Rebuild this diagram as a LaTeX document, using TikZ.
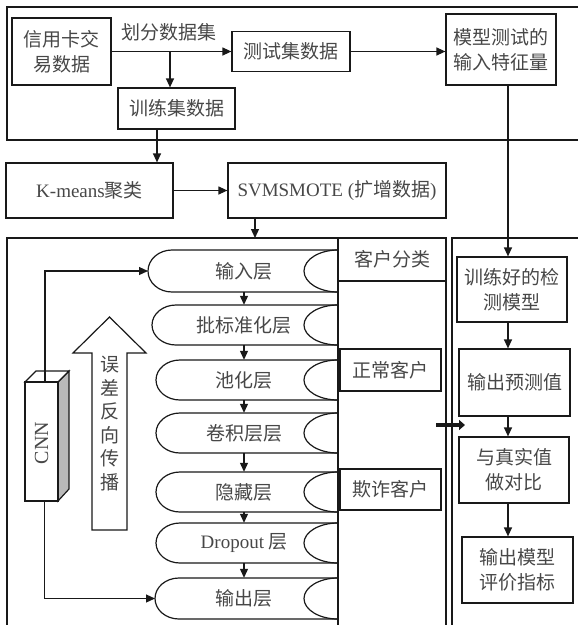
\documentclass[tikz,border=0pt]{standalone}
\usepackage{fontspec}
\setmainfont{Liberation Serif}
\newfontfamily\zh{Noto Sans CJK SC}
\usetikzlibrary{arrows.meta}
\begin{document}
\begin{tikzpicture}[x=1pt,y=-1pt,
  every node/.style={font=\zh\fontsize{19}{25}\selectfont, text=black!72, inner sep=0pt},
  box/.style={draw=black!90, line width=1.2pt, align=center},
  ln/.style={draw=black!90, line width=1.2pt},
  arr/.style={draw=black!90, line width=1.2pt, -{Triangle[length=9pt,width=8pt]}},
]
\useasboundingbox (0,0) rectangle (578,625);
\clip (0,0) rectangle (578,625);

% frames
\draw[ln] (7,7) rectangle (595,140);
\draw[ln] (7,238) rectangle (446,640);
\draw[ln] (338,238) -- (338,640);
\draw[ln] (452,238) rectangle (595,640);

% top section
\node[box, minimum width=99pt, minimum height=67pt] (src) at (61.5,51.5) {信用卡交\\易数据};
\node (split) at (169,32) {划分数据集};
\node[box, minimum width=118pt, minimum height=40pt] (test) at (291,51.5) {测试集数据};
\node[box, minimum width=117pt, minimum height=41pt] (train) at (176.5,108.5) {训练集数据};
\node[box, minimum width=110pt, minimum height=71pt] (model) at (501,49.5) {模型测试的\\输入特征量};
\node[box, minimum width=167pt, minimum height=55pt] (km) at (89.5,190.5) {{\rmfamily K-means}聚类};
\node[box, minimum width=218pt, minimum height=55pt] (sv) at (337,190.5) {{\rmfamily SVMSMOTE (}扩增数据{\rmfamily )}};

\coordinate (br) at (170,51.5);
\coordinate (c1) at (157,0);
\coordinate (c2) at (255,0);
\coordinate (rx) at (508,0);
\coordinate (cnnin) at (255,238);

\draw[arr] (src.east) -- (src.east -| test.west);
\draw[arr] (br) -- (br |- train.north);
\draw[arr] (test.east) -- (test.east -| model.west);
\draw[arr] (c1 |- train.south) -- (c1 |- km.north);
\draw[arr] (km.east) -- (km.east -| sv.west);
\draw[arr] (c2 |- sv.south) -- (cnnin);

% middle column
\node[box, minimum width=108pt, minimum height=43pt] (cls) at (392,259.5) {客户分类};
\node[box, minimum width=101pt, minimum height=42pt] (normal) at (390.5,370) {正常客户};
\node[box, minimum width=101pt, minimum height=41pt] (fraud) at (390.5,489.5) {欺诈客户};

% right column
\node[box, minimum width=110pt, minimum height=65pt] (r1) at (512,289.5) {训练好的检\\测模型};
\node[box, minimum width=111pt, minimum height=67pt] (r2) at (514.5,382.5) {输出预测值};
\node[box, minimum width=110pt, minimum height=66pt] (r3) at (514,470) {与真实值\\做对比};
\node[box, minimum width=111pt, minimum height=66pt] (r4) at (517.5,570) {输出模型\\评价指标};

\draw[arr] (rx |- model.south) -- (rx |- r1.north);
\draw[arr] (rx |- r1.south) -- (rx |- r2.north);
\draw[arr] (rx |- r2.south) -- (rx |- r3.north);
\draw[arr] (rx |- r3.south) -- (rx |- r4.north);

% thick arrow across double line
\coordinate (ta) at (436,425);
\coordinate (tb) at (465,425);
\draw[black!90, line width=4pt, -{Triangle[length=6pt,width=10pt]}] (ta) -- (tb);

% layers
\foreach \n/\t/\bb/\l/\txt in {
 L1/250/292/148/输入层,
 L2/305/345/152/批标准化层,
 L3/360/400/156/池化层,
 L4/413/453/156/卷积层层,
 L5/472/512/156/隐藏层,
 L6/523/563/156/{{\rmfamily Dropout} 层},
 L7/578/619/155/输出层}{
 \pgfmathsetmacro\m{(\t+\bb)/2}
 \pgfmathsetmacro\hr{(\bb-\t)/2}
 \pgfmathsetmacro\hh{\bb-\t}
 \pgfmathsetmacro\lx{\l+24}
 \draw[ln] (338,\t) -- (\lx,\t) arc[start angle=270,end angle=90,x radius=24,y radius=\hr] -- (338,\bb);
 \draw[ln] (338,\t) arc[start angle=270,end angle=90,x radius=34,y radius=\hr];
 \node[minimum height=\hh pt] (\n) at (244,\m) {\txt};
 \coordinate (\n w) at (\l,\m);
}
\foreach \a/\c in {L1/L2,L2/L3,L3/L4,L4/L5,L5/L6,L6/L7}
 \draw[arr] (\a.south) -- (\c.north);

% CNN block
\draw[ln, fill=gray!55] (58,382) -- (69,371) -- (69,489) -- (58,501) -- cycle;
\draw[ln, fill=white] (25,382) -- (36,371) -- (69,371) -- (58,382) -- cycle;
\node[draw=black!90, line width=1.2pt, fill=white, minimum width=33pt, minimum height=119pt] (cnn) at (41.5,441.5) {};
\node[rotate=90, font=\rmfamily\fontsize{20}{23}\selectfont] (cnnlbl) at (41.5,443) {CNN};
\draw[arr] ([xshift=3.5pt]cnn.north) |- (L1w);
\draw[arr] ([xshift=3pt]cnn.south) |- (L7w);

% back-propagation hollow arrow
\draw[ln, fill=white] (92,530) -- (92,353) -- (73,353) -- (109.5,317) -- (146,353) -- (127,353) -- (127,530) -- cycle;
\node[align=center, font=\zh\fontsize{19}{23.5}\selectfont] (bp) at (110,423.5) {误\\差\\反\\向\\传\\播};
\end{tikzpicture}
\end{document}
